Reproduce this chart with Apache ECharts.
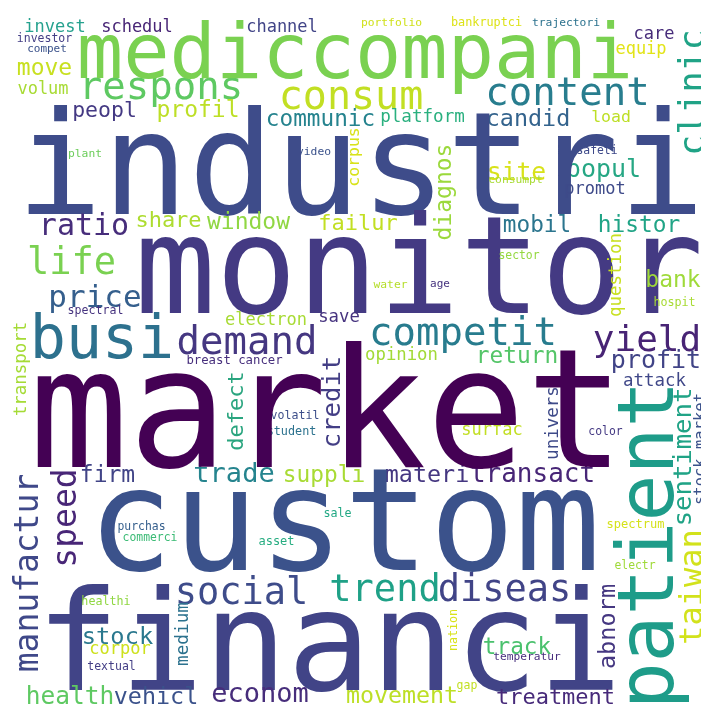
<!DOCTYPE html>
<html>
<head>
<meta charset="utf-8">
<title>word cloud</title>
<script src="https://cdn.jsdelivr.net/npm/echarts@6/dist/echarts.min.js"></script>
<style>
  html, body { margin: 0; padding: 0; background: #fff; }
  #chart { width: 701px; height: 706px; }
</style>
</head>
<body>
<div id="chart"></div>
<script>
// words of the cloud, in drawing order
const words = [
  'invest', 'schedul', 'investor', 'compet', 'move', 'volum', 'peopl', 'respons',
  'profil', 'mediccompani', 'channel', 'portfolio', 'bankruptci', 'trajectori', 'care', 'equip',
  'consum', 'communic', 'platform', 'content', 'candid', 'load', 'safeti', 'site',
  'popul', 'video', 'plant', 'industri', 'ratio', 'share', 'window', 'failur',
  'life', 'price', 'spectral', 'busi', 'electron', 'monitor', 'water', 'age',
  'save', 'demand', 'competit', 'consumpt', 'promot', 'mobil', 'histor', 'sector',
  'bank', 'hospit', 'yield', 'return', 'profit', 'attack', 'surfac', 'color',
  'transact', 'spectrum', 'breast cancer', 'opinion', 'volatil', 'student', 'suppli', 'materi',
  'trade', 'sale', 'market', 'firm', 'custom', 'purchas', 'commerci', 'financi',
  'social', 'healthi', 'stock', 'corpor', 'textual', 'health', 'vehicl', 'econom',
  'asset', 'trend', 'diseas', 'movement', 'gap', 'electr', 'track', 'temperatur',
  'treatment',
  // vertical words
  'corpus', 'diagnos', 'clinic', 'transport', 'question', 'credit', 'defect', 'univers',
  'sentiment', 'stock market', 'patient', 'speed', 'manufactur', 'medium', 'nation', 'taiwan',
  'abnorm'
];

// font size of each word (px), follows word frequency
const weights = [
  17, 17, 11.5, 11, 23, 17, 21.5, 39,
  23, 77, 17, 11.3, 11.8, 11.3, 17, 17,
  40, 22.7, 17.6, 39, 23.4, 16.5, 11.4, 24.7,
  25, 11.3, 11.3, 143, 30, 22, 23, 22,
  37, 31, 11.6, 60, 17, 135, 11.3, 11,
  17.3, 39, 39, 11.3, 17, 22.7, 22.8, 11.4,
  23, 11.7, 36, 22.8, 25, 17.4, 17, 11.4,
  26, 12, 12.3, 17.3, 11.6, 11.8, 22.8, 23.4,
  27, 11.7, 165, 23, 142, 11.4, 11.4, 139,
  37, 11.7, 23.7, 17, 11.5, 24.5, 23.4, 27,
  12, 37, 37, 23.3, 11.5, 11.4, 22.7, 11.2,
  22,
  16.5, 23, 35, 17.4, 17.4, 25.6, 22, 17.5,
  25.6, 15.5, 78, 33, 33, 17.7, 11.7, 32,
  23.6
];

// colour of each word (viridis)
const colors = [
  '#25a18e', '#482576', '#433e85', '#3b528b', '#c8e020', '#a8db34', '#443983', '#5ec962',
  '#bddf26', '#7ad151', '#414487', '#d0e11c', '#dde318', '#2c728e', '#472c7a', '#e2e418',
  '#c2df23', '#25838e', '#2ab07f', '#287d8e', '#33638d', '#bddf26', '#3e4989', '#d8e219',
  '#26a784', '#3b528b', '#6ccd5a', '#3e4c8a', '#472d7b', '#addc30', '#90d743', '#c2df23',
  '#7ad151', '#355f8d', '#46337f', '#2d718e', '#a8db34', '#443a83', '#b5de2b', '#46337f',
  '#46337f', '#453781', '#287c8e', '#a8db34', '#3e4a89', '#2b758e', '#20a486', '#95d840',
  '#9fda3a', '#a8db34', '#482475', '#54c568', '#414487', '#3f4788', '#c2df23', '#443983',
  '#482677', '#d5e21a', '#472f7d', '#a2da37', '#3e4f8a', '#2c728e', '#a8db34', '#453781',
  '#25848e', '#22a884', '#440154', '#414487', '#3b528b', '#355f8d', '#3bbb75', '#414487',
  '#3e4c8a', '#90d743', '#2a788e', '#cde11d', '#433e85', '#5ec962', '#3b528b', '#472d7b',
  '#27ad81', '#1fa187', '#414487', '#bddf26', '#c2df23', '#a0da39', '#4ac16d', '#472f7d',
  '#472a7a',
  '#d8e219', '#9bd93c', '#20a386', '#a5db36', '#c8e020', '#433e85', '#2aa57f', '#3e4a89',
  '#20a386', '#3b528b', '#1e9c89', '#482677', '#3f4889', '#2c728e', '#d8e219', '#d2e21b',
  '#453781'
];

// placement: horizontal -> [centre x, baseline y, 0]; vertical -> [baseline x, centre y, 90]
const placement = [
  [55, 31, 0], [137, 31, 0], [44.5, 42, 0], [47, 52, 0], [44.5, 74, 0], [43, 93, 0], [104.5, 116, 0], [161, 97, 0],
  [198, 116, 0], [355, 75, 0], [282, 31, 0], [391.5, 26, 0], [486.5, 26, 0], [566, 26, 0], [654, 38, 0], [641, 53, 0],
  [351, 107, 0], [320.5, 125, 0], [422.5, 121, 0], [567.5, 103, 0], [528, 125, 0], [611, 121.5, 0], [597, 154, 0], [516.5, 179, 0],
  [603.5, 176, 0], [314, 155, 0], [85, 157, 0], [360.5, 208, 0], [84, 234, 0], [168.5, 226, 0], [248.5, 228, 0], [358, 229, 0],
  [71.5, 273, 0], [95, 306, 0], [95.5, 314, 0], [102, 356, 0], [266, 324, 0], [419, 308, 0], [390.5, 288, 0], [440, 287, 0],
  [339, 321, 0], [247, 352, 0], [463, 343, 0], [515.5, 183, 0], [595, 193, 0], [537, 231, 0], [639, 231, 0], [519, 259, 0],
  [673, 286, 0], [674.5, 306, 0], [647, 350, 0], [517, 362, 0], [656, 367, 0], [654.5, 385, 0], [492, 434, 0], [605.5, 435, 0],
  [532.5, 481, 0], [635.5, 528, 0], [234.5, 364, 0], [401.5, 359, 0], [295, 419, 0], [291.5, 435, 0], [324, 481, 0], [427, 481, 0],
  [234, 481, 0], [337.5, 517, 0], [327, 460, 0], [107.5, 481, 0], [344, 564, 0], [141.5, 530, 0], [150, 541, 0], [329, 684, 0],
  [241.5, 603, 0], [106, 605, 0], [117.5, 643, 0], [120, 653, 0], [111.5, 670, 0], [70, 703, 0], [156, 703, 0], [260, 701, 0],
  [276.5, 545, 0], [385, 600, 0], [504.5, 600, 0], [402, 702, 0], [467, 689, 0], [635, 569, 0], [517, 653, 0], [527, 660, 0],
  [555.5, 703, 0],
  [358, 157, 90], [450, 192, 90], [703, 92.5, 90], [25, 369, 90], [620, 275, 90], [339, 402, 90], [242, 411, 90], [557, 423, 90],
  [690, 457, 90], [704, 449, 90], [670, 545, 90], [75, 518, 90], [37, 573, 90], [187, 634, 90], [457, 630, 90], [701, 587, 90],
  [614, 626.5, 90]
];

// distance from baseline to the middle of the text box, per px of font size
const MID = 0.22;

const chart = echarts.init(document.getElementById('chart'));

const data = words.map((w, i) => {
  const fs = weights[i];
  const [px, py, rot] = placement[i];
  return {
    value: rot ? [px - MID * fs, py] : [px, py - MID * fs],
    label: { formatter: w, fontSize: fs, color: colors[i], rotate: rot }
  };
});

chart.setOption({
  backgroundColor: '#ffffff',
  animation: false,
  grid: { left: 0, right: 0, top: 0, bottom: 0 },
  xAxis: { type: 'value', min: 0, max: 701, show: false },
  yAxis: { type: 'value', min: 0, max: 706, inverse: true, show: false },
  series: [
    {
      type: 'scatter',
      silent: true,
      symbolSize: 1,
      itemStyle: { color: 'rgba(0,0,0,0)', opacity: 1 },
      label: {
        show: true,
        position: 'inside',
        align: 'center',
        verticalAlign: 'middle',
        opacity: 1,
        fontFamily: 'DejaVu Sans Mono'
      },
      data: data
    }
  ]
});
</script>
</body>
</html>
